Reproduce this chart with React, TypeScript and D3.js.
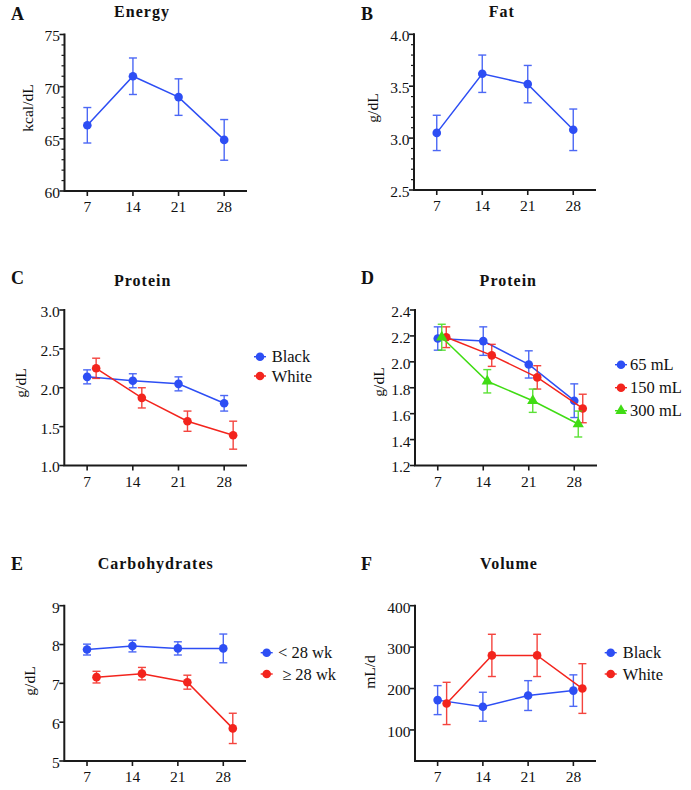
import React from 'react';
import * as d3 from 'd3';

// ---------- data ----------
const days = [7, 14, 21, 28];
const xTickLabels = ['7', '14', '21', '28'];

const energyMean = [66.3, 71.0, 69.0, 64.9];
const energyErr = [1.7, 1.75, 1.75, 1.95];

const fatMean = [3.05, 3.62, 3.52, 3.08];
const fatErr = [0.17, 0.18, 0.18, 0.2];

const proteinBlackMean = [2.14, 2.09, 2.05, 1.8];
const proteinBlackErr = [0.09, 0.09, 0.09, 0.1];
const proteinWhiteMean = [2.25, 1.87, 1.57, 1.39];
const proteinWhiteErr = [0.13, 0.13, 0.13, 0.18];

const protein65Mean = [2.18, 2.16, 1.98, 1.7];
const protein65Err = [0.09, 0.11, 0.105, 0.13];
const protein150Mean = [2.19, 2.05, 1.88, 1.64];
const protein150Err = [0.08, 0.085, 0.09, 0.11];
const protein300Mean = [2.19, 1.85, 1.7, 1.52];
const protein300Err = [0.1, 0.09, 0.09, 0.1];

const carbLowMean = [7.87, 7.96, 7.9, 7.9];
const carbLowErr = [0.14, 0.15, 0.17, 0.37];
const carbHighMean = [7.16, 7.25, 7.03, 5.84];
const carbHighErr = [0.15, 0.16, 0.18, 0.39];

const volumeBlackMean = [172, 156, 183, 195];
const volumeBlackErr = [35, 35, 36, 38];
const volumeWhiteMean = [164, 280, 280, 200];
const volumeWhiteErr = [51, 51, 51, 60];

const energyTicks = [60, 65, 70, 75];
const fatTicks = [2.5, 3.0, 3.5, 4.0];
const proteinCTicks = [1.0, 1.5, 2.0, 2.5, 3.0];
const proteinDTicks = [1.2, 1.4, 1.6, 1.8, 2.0, 2.2, 2.4];
const carbTicks = [5, 6, 7, 8, 9];
const volumeTicks = [100, 200, 300, 400];

// ---------- styles ----------
const BLUE = '#2d4ef4';
const RED = '#f3241d';
const GREEN = '#40dc14';
const FONT = 'Liberation Serif, DejaVu Serif, serif';
const INK = '#111';

type Series = {
  name: string;
  mean: number[];
  err: number[];
  color: string;
  shape: 'circle' | 'triangle';
  nudge: number;
};

type PanelSpec = {
  letter: string;
  title: string;
  yLabel: string;
  box: { x0: number; x1: number; y0: number; y1: number };
  yDomain: [number, number];
  yTicks: number[];
  yFmt: (v: number) => string;
  minorStep?: number;
  series: Series[];
  letterPos: [number, number];
  titlePos: [number, number];
  yLabelPos: [number, number];
  legend?: { mx: number; tx: number; ys: number[] };
};

const f0 = (v: number) => d3.format('d')(v);
const f1 = (v: number) => d3.format('.1f')(v);

const panels: PanelSpec[] = [
  {
    letter: 'A', title: 'Energy', yLabel: 'kcal/dL',
    box: { x0: 64.5, x1: 247, y0: 34.5, y1: 191 },
    yDomain: [60, 75], yTicks: energyTicks, yFmt: f0, minorStep: 1,
    series: [{ name: '', mean: energyMean, err: energyErr, color: BLUE, shape: 'circle', nudge: 0 }],
    letterPos: [11, 20], titlePos: [142, 17], yLabelPos: [27, 108],
  },
  {
    letter: 'B', title: 'Fat', yLabel: 'g/dL',
    box: { x0: 414, x1: 596, y0: 34.3, y1: 190 },
    yDomain: [2.5, 4.0], yTicks: fatTicks, yFmt: f1, minorStep: 0.1,
    series: [{ name: '', mean: fatMean, err: fatErr, color: BLUE, shape: 'circle', nudge: 0 }],
    letterPos: [361, 20], titlePos: [501.7, 17], yLabelPos: [372, 108],
  },
  {
    letter: 'C', title: 'Protein', yLabel: 'g/dL',
    box: { x0: 64.3, x1: 247, y0: 310, y1: 465.5 },
    yDomain: [1.0, 3.0], yTicks: proteinCTicks, yFmt: f1,
    series: [
      { name: 'Black', mean: proteinBlackMean, err: proteinBlackErr, color: BLUE, shape: 'circle', nudge: 0 },
      { name: 'White', mean: proteinWhiteMean, err: proteinWhiteErr, color: RED, shape: 'circle', nudge: 9 },
    ],
    letterPos: [11, 284], titlePos: [142.7, 286], yLabelPos: [20, 383],
    legend: { mx: 260, tx: 271.7, ys: [356.7, 376] },
  },
  {
    letter: 'D', title: 'Protein', yLabel: 'g/dL',
    box: { x0: 415, x1: 597, y0: 310, y1: 465.5 },
    yDomain: [1.2, 2.4], yTicks: proteinDTicks, yFmt: f1,
    series: [
      { name: '65 mL', mean: protein65Mean, err: protein65Err, color: BLUE, shape: 'circle', nudge: 0 },
      { name: '150 mL', mean: protein150Mean, err: protein150Err, color: RED, shape: 'circle', nudge: 8.5 },
      { name: '300 mL', mean: protein300Mean, err: protein300Err, color: GREEN, shape: 'triangle', nudge: 4 },
    ],
    letterPos: [361, 284], titlePos: [508.3, 286], yLabelPos: [378, 382],
    legend: { mx: 621, tx: 630, ys: [364.7, 387.7, 410.7] },
  },
  {
    letter: 'E', title: 'Carbohydrates', yLabel: 'g/dL',
    box: { x0: 64.3, x1: 246, y0: 605.7, y1: 761 },
    yDomain: [5, 9], yTicks: carbTicks, yFmt: f0,
    series: [
      { name: '< 28 wk', mean: carbLowMean, err: carbLowErr, color: BLUE, shape: 'circle', nudge: 0 },
      { name: '\u00a0\u2265 28 wk', mean: carbHighMean, err: carbHighErr, color: RED, shape: 'circle', nudge: 9.5 },
    ],
    letterPos: [11, 570], titlePos: [155.7, 569], yLabelPos: [29, 681],
    legend: { mx: 266.7, tx: 278, ys: [652.7, 674] },
  },
  {
    letter: 'F', title: 'Volume', yLabel: 'mL/d',
    box: { x0: 415, x1: 596, y0: 605.7, y1: 761 },
    yDomain: [25, 400], yTicks: volumeTicks, yFmt: f0,
    series: [
      { name: 'Black', mean: volumeBlackMean, err: volumeBlackErr, color: BLUE, shape: 'circle', nudge: 0 },
      { name: 'White', mean: volumeWhiteMean, err: volumeWhiteErr, color: RED, shape: 'circle', nudge: 9 },
    ],
    letterPos: [361, 570], titlePos: [509, 569], yLabelPos: [369, 672],
    legend: { mx: 610.7, tx: 622.7, ys: [652.7, 674] },
  },
];

const triPath = d3.symbol(d3.symbolTriangle).size(55)() as string;

function Marker({ x, y, color, shape }: { x: number; y: number; color: string; shape: string }) {
  if (shape === 'triangle') {
    return <path d={triPath} transform={`translate(${x},${y})`} fill={color} />;
  }
  return <circle cx={x} cy={y} r={4.3} fill={color} />;
}

const txt = (size: number, weight: string = 'normal'): React.CSSProperties => ({
  fontFamily: FONT,
  fontSize: size,
  fontWeight: weight as any,
});

function Panel({ p }: { p: PanelSpec }) {
  const { x0, x1, y0, y1 } = p.box;
  const x = d3.scaleLinear().domain([3.5, 31.5]).range([x0, x1]);
  const y = d3.scaleLinear().domain(p.yDomain).range([y1, y0]);
  const minor: number[] = [];
  if (p.minorStep) {
    const [a, b] = p.yDomain;
    const n = Math.round((b - a) / p.minorStep);
    for (let i = 0; i <= n; i++) {
      const v = a + i * p.minorStep;
      if (!p.yTicks.some((t) => Math.abs(t - v) < 1e-9)) minor.push(v);
    }
  }
  return (
    <g>
      <text x={p.letterPos[0]} y={p.letterPos[1]} style={txt(18, 'bold')} fill={INK}>
        {p.letter}
      </text>
      <text
        x={p.titlePos[0]} y={p.titlePos[1]} style={txt(16, 'bold')}
        letterSpacing={1} textAnchor="middle" fill={INK}
      >
        {p.title}
      </text>
      <text
        transform={`translate(${p.yLabelPos[0]},${p.yLabelPos[1]}) rotate(-90)`}
        style={txt(15.5)} textAnchor="middle" dominantBaseline="central" fill={INK}
      >
        {p.yLabel}
      </text>
      {/* axes */}
      <path d={`M${x0},${y0 - 1}V${y1}H${x1}`} fill="none" stroke="#1a1a1a" strokeWidth={2} />
      {p.yTicks.map((t) => (
        <g key={'yt' + t}>
          <line x1={x0 - 5} x2={x0} y1={y(t)} y2={y(t)} stroke="#1a1a1a" strokeWidth={1.6} />
          <text x={x0 - 4.5} y={y(t) + 1.5} dy="0.35em" textAnchor="end" style={txt(15.5)} fill={INK}>
            {p.yFmt(t)}
          </text>
        </g>
      ))}
      {minor.map((t) => (
        <line key={'mt' + t} x1={x0 - 3} x2={x0} y1={y(t)} y2={y(t)} stroke="#1a1a1a" strokeWidth={1.2} />
      ))}
      {days.map((d, i) => (
        <g key={'xt' + d}>
          <line x1={x(d)} x2={x(d)} y1={y1} y2={y1 + 5} stroke="#1a1a1a" strokeWidth={1.6} />
          <text x={x(d)} y={y1 + 21} textAnchor="middle" style={txt(15.5)} fill={INK}>
            {xTickLabels[i]}
          </text>
        </g>
      ))}
      {/* series */}
      {p.series.map((s, si) => {
        const line = d3
          .line<number>()
          .x((_, i) => x(days[i]) + s.nudge)
          .y((v) => y(v));
        return (
          <g key={'s' + si}>
            <path d={line(s.mean) as string} fill="none" stroke={s.color} strokeWidth={1.5} />
            {s.mean.map((m, i) => {
              const cx = x(days[i]) + s.nudge;
              const top = y(m + s.err[i]);
              const bot = y(m - s.err[i]);
              return (
                <g key={i} stroke={s.color} strokeWidth={1.4} opacity={0.85}>
                  <line x1={cx} x2={cx} y1={top} y2={bot} />
                  <line x1={cx - 4} x2={cx + 4} y1={top} y2={top} />
                  <line x1={cx - 4} x2={cx + 4} y1={bot} y2={bot} />
                </g>
              );
            })}
            {s.mean.map((m, i) => (
              <Marker key={'m' + i} x={x(days[i]) + s.nudge} y={y(m)} color={s.color} shape={s.shape} />
            ))}
          </g>
        );
      })}
      {p.legend &&
        p.series.map((s, si) => {
          const ly = p.legend!.ys[si];
          const mx = p.legend!.mx;
          return (
            <g key={'lg' + si}>
              <line x1={mx - 6} x2={mx + 6} y1={ly} y2={ly} stroke={s.color} strokeWidth={1.4} />
              <Marker x={mx} y={ly} color={s.color} shape={s.shape} />
              <text x={p.legend!.tx} y={ly} dy="0.35em" style={txt(16.5)} fill={INK}>
                {s.name}
              </text>
            </g>
          );
        })}
    </g>
  );
}

export default function App() {
  return (
    <svg
      width={691}
      height={790}
      viewBox="0 0 691 790"
      style={{ position: 'absolute', left: 0, top: 0, background: '#fff' }}
    >
      <rect width={691} height={790} fill="#fff" />
      {panels.map((p) => (
        <Panel key={p.letter} p={p} />
      ))}
    </svg>
  );
}
